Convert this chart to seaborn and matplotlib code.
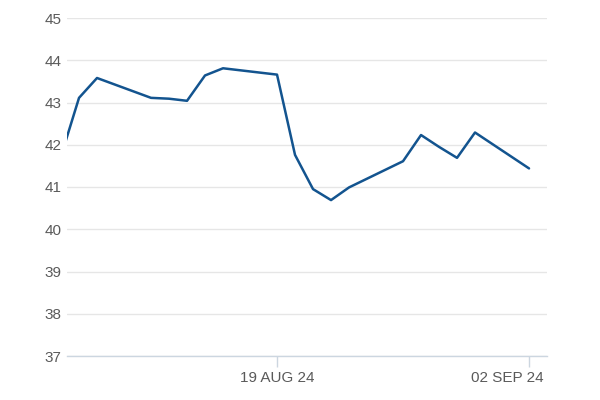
import matplotlib
matplotlib.use("Agg")
import matplotlib.pyplot as plt
import matplotlib.transforms as mtransforms
import seaborn as sns
import pandas as pd

dates = ["2024-08-07", "2024-08-08", "2024-08-09", "2024-08-12", "2024-08-13",
         "2024-08-14", "2024-08-15", "2024-08-16", "2024-08-19", "2024-08-20",
         "2024-08-21", "2024-08-22", "2024-08-23", "2024-08-26", "2024-08-27",
         "2024-08-28", "2024-08-29", "2024-08-30", "2024-09-02"]
values = [41.73, 43.11, 43.58, 43.11, 43.09, 43.04, 43.64, 43.81, 43.66, 41.76,
          40.95, 40.69, 40.99, 41.61, 42.23, 41.95, 41.69, 42.29, 41.44]
y_ticks = [37, 38, 39, 40, 41, 42, 43, 44, 45]
x_ticks = ["2024-08-19", "2024-09-02"]
x_tick_labels = ["19 AUG 24", "02 SEP 24"]

df = pd.DataFrame({"date": pd.to_datetime(dates), "value": values})

sns.set_theme(style="white")
plt.rcParams["font.family"] = ["Liberation Sans", "DejaVu Sans"]

fig = plt.figure(figsize=(6, 4), dpi=100)
ax = fig.add_axes([0.1117, 0.11, 0.8, 0.845])

sns.lineplot(data=df, x="date", y="value", ax=ax, color="#13548f", linewidth=1.8)

ax.set_ylim(37, 45)
ax.set_yticks(y_ticks)
ax.set_xlim(pd.Timestamp("2024-08-07 08:00"), pd.Timestamp("2024-09-03 00:00"))
ax.set_xticks(pd.to_datetime(x_ticks))
ax.set_xticklabels(x_tick_labels)

ax.grid(axis="y", color="#e6e6e6", linewidth=1)
ax.grid(axis="x", visible=False)
for s in ["left", "right", "top"]:
    ax.spines[s].set_visible(False)
ax.spines["bottom"].set_color("#ccd6e0")
ax.spines["bottom"].set_linewidth(1)
ax.tick_params(axis="y", left=False, length=0, pad=4, labelsize=11, labelcolor="#5a5a5a")
ax.tick_params(axis="x", bottom=True, length=8, width=1, color="#ccd6e0", pad=3,
               labelsize=11, labelcolor="#5a5a5a", direction="out")
ax.set_xlabel("")
ax.set_ylabel("")

last = ax.get_xticklabels()[-1]
last.set_horizontalalignment("right")
last.set_transform(last.get_transform() +
                   mtransforms.ScaledTranslation(15 / 100, 0, fig.dpi_scale_trans))

fig.savefig("out.png", dpi=100)
